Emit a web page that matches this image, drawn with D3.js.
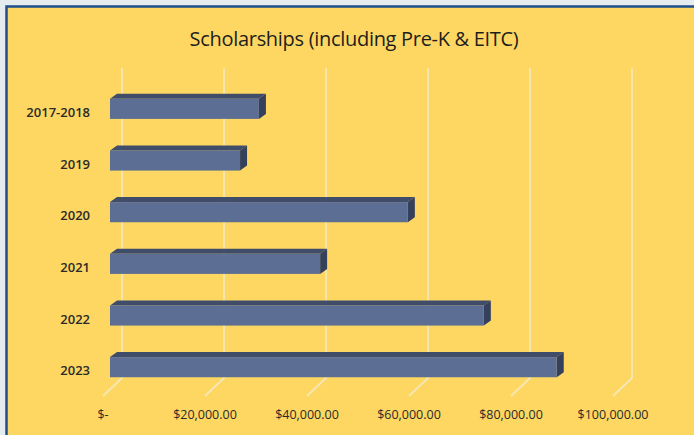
<!DOCTYPE html>
<html>
<head>
<meta charset="utf-8">
<script src="https://cdn.jsdelivr.net/npm/d3@7"></script>
<style>
    body { margin: 0; background: #e4ecef; }
    svg { display: block; }
</style>
</head>
<body>
<script>
var categories = ['2017-2018', '2019', '2020', '2021', '2022', '2023'];
var amounts = [29200, 25500, 58400, 41200, 73300, 87600];
var tickValues = [0, 20000, 40000, 60000, 80000, 100000];
var tickLabels = ['$-', '$20,000.00', '$40,000.00', '$60,000.00', '$80,000.00', '$100,000.00'];

var w = 694, h = 435;
var depthX = 7, depthY = 5;   // bar top/side slant
var wallX = 12;               // back wall offset from bar front

var svg = d3.select('body')
    .append('svg')
    .attr('width', w)
    .attr('height', h);

// frame
svg.append('rect')
    .attr('x', 6.5).attr('y', 6.5)
    .attr('width', w).attr('height', h)
    .attr('fill', '#fdd762')
    .attr('stroke', '#1c4f8c')
    .attr('stroke-width', 2.5);

svg.append('text')
    .attr('x', 354)
    .attr('y', 46)
    .attr('text-anchor', 'middle')
    .style('font-family', 'Open Sans')
    .style('font-size', '20px')
    .style('letter-spacing', '-0.3px')
    .style('fill', '#1e1e1e')
    .text('Scholarships (including Pre-K & EITC)');

var x = d3.scaleLinear()
    .domain([0, 100000])
    .range([110, 620]);

var y = d3.scaleBand()
    .domain(categories)
    .range([83, 393])
    .paddingInner(0.61)
    .paddingOuter(0.305);

// gridlines: back wall + floor
var grid = svg.append('g').attr('class', 'grid');
tickValues.forEach(function (v) {
    var bx = x(v) + wallX;
    grid.append('path')
        .attr('d', 'M' + bx + ',68 L' + bx + ',378 L' + (x(v) - 7) + ',396')
        .attr('fill', 'none')
        .attr('stroke', '#f6e7b6')
        .attr('stroke-width', 1.8);
});

// tick labels
svg.append('g')
    .selectAll('text')
    .data(tickValues)
    .enter()
    .append('text')
    .attr('x', function (d) { return x(d) - 7; })
    .attr('y', 419)
    .attr('text-anchor', 'middle')
    .style('font-family', 'Open Sans')
    .style('font-size', '12.5px')
    .style('fill', '#2a2a2a')
    .text(function (d, i) { return tickLabels[i]; });

// bars
var bars = svg.selectAll('.bar')
    .data(categories)
    .enter()
    .append('g')
    .attr('class', 'bar');

bars.append('path')   // top face
    .attr('d', function (d, i) {
        var x0 = x(0), x1 = x(amounts[i]), t = y(d);
        return 'M' + x0 + ',' + t + ' L' + (x0 + depthX) + ',' + (t - depthY) +
            ' L' + (x1 + depthX) + ',' + (t - depthY) + ' L' + x1 + ',' + t + 'Z';
    })
    .attr('fill', '#3f4c6a');

bars.append('path')   // side face
    .attr('d', function (d, i) {
        var x1 = x(amounts[i]), t = y(d), b = t + y.bandwidth();
        return 'M' + x1 + ',' + t + ' L' + (x1 + depthX) + ',' + (t - depthY) +
            ' L' + (x1 + depthX) + ',' + (b - depthY) + ' L' + x1 + ',' + b + 'Z';
    })
    .attr('fill', '#34405c');

bars.append('rect')   // front face
    .attr('x', x(0))
    .attr('y', function (d) { return y(d); })
    .attr('width', function (d, i) { return x(amounts[i]) - x(0); })
    .attr('height', y.bandwidth())
    .attr('fill', '#5c6e93');

// category labels
svg.append('g')
    .selectAll('text')
    .data(categories)
    .enter()
    .append('text')
    .attr('x', 90)
    .attr('y', function (d) { return y(d) + y.bandwidth() / 2 + 8; })
    .attr('text-anchor', 'end')
    .style('font-family', 'Open Sans')
    .style('font-size', '13px')
    .style('font-weight', 600)
    .style('fill', '#2a2a2a')
    .text(function (d) { return d; });
</script>
</body>
</html>
